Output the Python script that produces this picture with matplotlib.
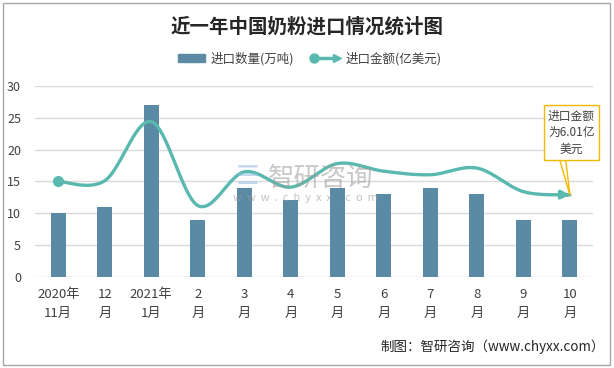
import numpy as np
import matplotlib
matplotlib.use('Agg')
import matplotlib.pyplot as plt
from matplotlib.patches import Patch, Rectangle
from matplotlib.lines import Line2D
from matplotlib.legend_handler import HandlerBase

plt.rcParams['font.family'] = ['Noto Sans CJK SC', 'DejaVu Sans']

# data
months = ['2020年\n11月', '12\n月', '2021年\n1月', '2\n月', '3\n月', '4\n月',
          '5\n月', '6\n月', '7\n月', '8\n月', '9\n月', '10\n月']
qty = [10, 11, 27, 9, 14, 12, 14, 13, 14, 13, 9, 9]            # 万吨
value = [7.0, 7.05, 11.39, 5.23, 7.7, 6.58, 8.31, 7.75, 7.49, 7.98, 6.25, 6.01]  # 亿美元

bar_color = '#5b8aa4'
line_color = '#5ab9ae'
text_color = '#404040'


def smooth(xs, ys, n=30):
  # excel-like smoothed line (catmull-rom as bezier)
  p = np.column_stack([xs, ys]).astype(float)
  ext = np.vstack([p[0], p, p[-1]])
  out = []
  t = np.linspace(0, 1, n)[:, None]
  for i in range(len(p) - 1):
    p0, p1, p2, p3 = ext[i], ext[i + 1], ext[i + 2], ext[i + 3]
    c1 = p1 + (p2 - p0) / 6.0
    c2 = p2 - (p3 - p1) / 6.0
    seg = ((1 - t) ** 3) * p1 + 3 * ((1 - t) ** 2) * t * c1 + 3 * (1 - t) * t ** 2 * c2 + t ** 3 * p2
    out.append(seg if i == 0 else seg[1:])
  s = np.vstack(out)
  return s[:, 0], s[:, 1]


class LineArrowHandler(HandlerBase):
  def create_artists(self, legend, orig_handle, xdescent, ydescent, width, height, fontsize, trans):
    y = height / 2.0 - ydescent
    x0, x1 = -xdescent, width - xdescent
    line = Line2D([x0, x1 - 3], [y, y], color=line_color, lw=2.5)
    dot = Line2D([x0], [y], marker='o', ms=6.5, color=line_color, lw=0)
    tip = Line2D([x1 - 2], [y], marker='>', ms=6, color=line_color, lw=0)
    for a in (line, dot, tip):
      a.set_transform(trans)
    return [line, dot, tip]


fig = plt.figure(figsize=(6.14, 3.68), dpi=100)
fig.patches.append(Rectangle((0.005, 0.008), 0.988, 0.984, transform=fig.transFigure,
                             fill=False, ec='#a6a6a6', lw=1))

ax = fig.add_axes([0.057, 0.248, 0.909, 0.518])
x = np.arange(len(months))
ax.bar(x, qty, width=0.32, color=bar_color, zorder=2)
ax.set_xlim(-0.5, len(months) - 0.5)
ax.set_ylim(0, 30)
ax.set_yticks(np.arange(0, 31, 5))
ax.yaxis.grid(True, color='#d9d9d9', lw=1)
ax.set_axisbelow(True)
for s in ax.spines.values():
  s.set_visible(False)
ax.tick_params(axis='both', length=0, labelsize=9, colors=text_color)
ax.tick_params(axis='y', pad=10)
ax.tick_params(axis='x', pad=8)
ax.set_xticks(x)
ax.set_xticklabels(months, linespacing=1.6, fontsize=9.5)

ax2 = ax.twinx()
ax2.set_ylim(0, 14)
ax2.axis('off')
sx, sy = smooth(x, value)
ax2.plot(sx, sy, color=line_color, lw=2.4, zorder=4, solid_capstyle='round')
ax2.plot([x[0]], [value[0]], marker='o', ms=7, color=line_color, zorder=5)
k = len(sx) - 5
ax2.annotate('', xy=(sx[-1], sy[-1]), xytext=(sx[k], sy[k]),
             arrowprops=dict(arrowstyle='-|>', color=line_color, lw=2.4,
                             mutation_scale=12, shrinkA=0, shrinkB=0), zorder=5)

ax2.annotate('进口金额\n为%.2f亿\n美元' % value[-1], xy=(x[-1], value[-1]),
             xytext=(1, 45), textcoords='offset points', ha='center', va='center',
             fontsize=8.5, color=text_color, linespacing=1.35,
             bbox=dict(boxstyle='square,pad=0.35', fc='white', ec='#f5b800', lw=1),
             arrowprops=dict(arrowstyle='wedge,tail_width=0.5', fc='white', ec='#f5b800',
                             lw=1, shrinkA=0, shrinkB=0, relpos=(0.3, 0)), zorder=6)

# watermark
fig.text(0.437, 0.516, '智研咨询', fontsize=19, color='#9a9a9a', alpha=0.55,
         ha='left', va='center')
fig.text(0.384, 0.52, '☰', fontsize=19, color='#9cc0e4', alpha=0.6,
         ha='left', va='center', family='DejaVu Sans')
fig.text(0.498, 0.463, 'w  w  w  .  c  h  y  x  x  .  c  o  m', fontsize=8, color='#9a9a9a',
         alpha=0.6, ha='center', va='center')

fig.text(0.5, 0.927, '近一年中国奶粉进口情况统计图', fontsize=14, fontweight='bold',
         color='#262626', ha='center', va='center')

legend_line = Line2D([], [])
fig.legend([Patch(color=bar_color), legend_line], ['进口数量(万吨)', '进口金额(亿美元)'],
           handler_map={legend_line: LineArrowHandler()},
           loc='center', bbox_to_anchor=(0.505, 0.84), ncol=2, frameon=False,
           fontsize=9, handlelength=2.1, handleheight=0.6, columnspacing=1.6,
           handletextpad=0.45, labelcolor=text_color)

fig.text(0.985, 0.057, '制图：智研咨询（www.chyxx.com）', fontsize=9.7, color='#262626',
         ha='right', va='center')

fig.savefig('out.png', dpi=100)
